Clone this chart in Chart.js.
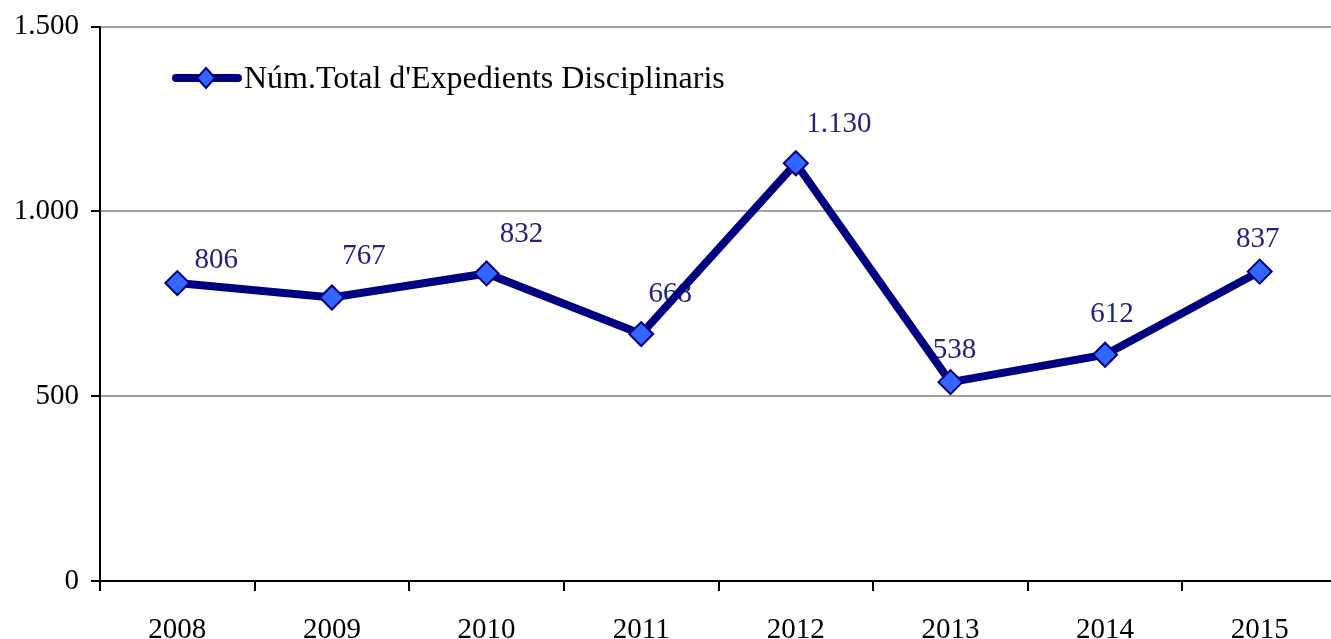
<!DOCTYPE html>
<html>
<head>
<meta charset="utf-8">
<script src="https://cdn.jsdelivr.net/npm/chart.js@4/dist/chart.umd.min.js"></script>
<style>
  html, body { margin: 0; padding: 0; background: #fff; overflow: hidden; }
  canvas { display: block; }
</style>
</head>
<body>
<canvas id="expChart" width="1351" height="639"></canvas>
<script>
// Data
const years = ['2008', '2009', '2010', '2011', '2012', '2013', '2014', '2015'];
const expedients = [806, 767, 832, 668, 1130, 538, 612, 837];
const yTicks = [0, 500, 1000, 1500];
const seriesLabel = "Núm.Total d'Expedients Disciplinaris";

// label nudges (px) so they sit like the original
const labelNudge = [[39, -23], [32, -41], [35, -39], [29, -40], [43, -39], [4, -32], [7, -40], [-2, -32]];

const FONT = '"Liberation Serif", "Times New Roman", serif';
const NAVY = '#000080';
const MARK = '#3366ff';

function fmt(v) {
    return String(v).replace(/\B(?=(\d{3})+(?!\d))/g, '.');
}

// value labels, drawn under the line
const valueLabels = {
    id: 'valueLabels',
    beforeDatasetsDraw(chart) {
        const c = chart.ctx;
        const pts = chart.getDatasetMeta(0).data;
        c.save();
        c.font = '29px ' + FONT;
        c.fillStyle = '#22227f';
        c.textAlign = 'center';
        c.textBaseline = 'middle';
        pts.forEach((p, i) => {
            const n = labelNudge[i];
            c.fillText(fmt(expedients[i]), p.x + n[0], p.y + n[1]);
        });
        c.restore();
    }
};

// legend inside plot: line + diamond + text
const innerLegend = {
    id: 'innerLegend',
    afterDraw(chart) {
        const c = chart.ctx;
        const y = 78;
        c.save();
        c.strokeStyle = NAVY;
        c.lineWidth = 8;
        c.lineCap = 'round';
        c.beginPath();
        c.moveTo(176, y);
        c.lineTo(238, y);
        c.stroke();
        c.fillStyle = MARK;
        c.lineWidth = 2;
        c.lineCap = 'butt';
        c.beginPath();
        c.moveTo(206, y - 10); c.lineTo(215, y); c.lineTo(206, y + 10); c.lineTo(197, y);
        c.closePath();
        c.fill();
        c.stroke();
        c.font = '32px ' + FONT;
        c.fillStyle = '#000';
        c.textAlign = 'left';
        c.textBaseline = 'middle';
        c.fillText(chart.data.datasets[0].label, 244, y + 2);
        c.restore();
    }
};

const ctx = document.getElementById('expChart').getContext('2d');
const expChart = new Chart(ctx, {
    type: 'line',
    data: {
        labels: years,
        datasets: [{
            label: seriesLabel,
            data: expedients,
            borderColor: NAVY,
            borderWidth: 8,
            tension: 0,
            pointStyle: 'rectRot',
            pointRadius: 12,
            pointHoverRadius: 12,
            pointBackgroundColor: MARK,
            pointBorderColor: NAVY,
            pointBorderWidth: 2
        }]
    },
    options: {
        responsive: false,
        animation: false,
        events: [],
        layout: { padding: { top: 25, right: 0, bottom: 0, left: 0 } },
        plugins: { legend: { display: false }, tooltip: { enabled: false } },
        scales: {
            x: {
                offset: true,
                grid: {
                    offset: true,
                    drawOnChartArea: false,
                    color: '#000',
                    lineWidth: 2,
                    tickLength: 10
                },
                border: { color: '#000', width: 2 },
                ticks: {
                    color: '#000',
                    font: { family: FONT, size: 29 },
                    padding: 22,
                    maxRotation: 0
                },
                afterFit(scale) { scale.height = 58; }
            },
            y: {
                min: 0,
                max: 1500,
                afterBuildTicks(scale) { scale.ticks = yTicks.map(v => ({ value: v })); },
                grid: {
                    color: '#a0a0a0',
                    lineWidth: 2,
                    tickColor: '#000',
                    tickLength: 9
                },
                border: { color: '#000', width: 2 },
                ticks: {
                    color: '#000',
                    font: { family: FONT, size: 29, lineHeight: 1 },
                    padding: 12,
                    callback: v => fmt(v)
                },
                afterFit(scale) { scale.width = 100; }
            }
        }
    },
    plugins: [valueLabels, innerLegend]
});
</script>
</body>
</html>
